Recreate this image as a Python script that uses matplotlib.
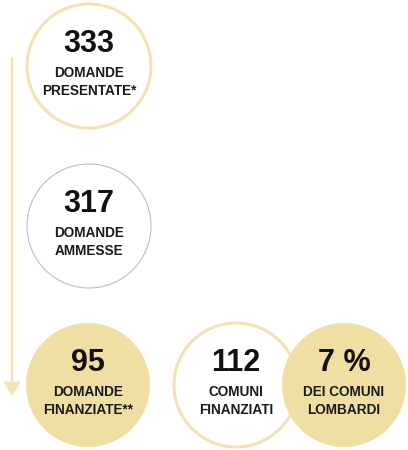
import matplotlib.pyplot as plt
from matplotlib.patches import Circle, FancyArrowPatch

# Data
values = ["333", "317", "95", "112", "7 %"]
labels = ["DOMANDE\nPRESENTATE*", "DOMANDE\nAMMESSE", "DOMANDE\nFINANZIATE**",
          "COMUNI\nFINANZIATI", "DEI COMUNI\nLOMBARDI"]

gold = "#F0DFA2"
gold_line = "#F2E3B2"

# layout: center x, center y, fill, edge color, edge width
circles = [
    (89, 66, "white", gold_line, 2.2),
    (89, 226, "white", "#BDBDBD", 0.8),
    (88, 385, gold, gold, 0),
    (236, 385, "white", gold_line, 2.2),
    (344, 385, gold, gold, 0),
]
radius = 62

fig = plt.figure(figsize=(4.08, 4.5), dpi=100)
ax = fig.add_axes([0, 0, 1, 1])
ax.set_xlim(0, 408)
ax.set_ylim(450, 0)
ax.set_aspect("equal")
ax.axis("off")

# arrow on the left
arrow = FancyArrowPatch((12, 58), (12, 396), arrowstyle="-|>,head_length=8,head_width=5",
                        color=gold_line, lw=1.6, mutation_scale=1, shrinkA=0, shrinkB=0)
ax.add_patch(arrow)

for (cx, cy, fc, ec, lw), val, lab in zip(circles, values, labels):
    ax.add_patch(Circle((cx, cy), radius, facecolor=fc, edgecolor=ec, linewidth=lw))
    ax.text(cx, cy - 22, val, ha="center", va="center", fontsize=22,
            fontweight="bold", family="Liberation Sans", color="#111111")
    ax.text(cx, cy + 16, lab, ha="center", va="center", fontsize=9.8,
            fontweight="bold", family="Liberation Sans", color="#1a1a1a",
            linespacing=1.3)

fig.savefig("out.png", dpi=100)
